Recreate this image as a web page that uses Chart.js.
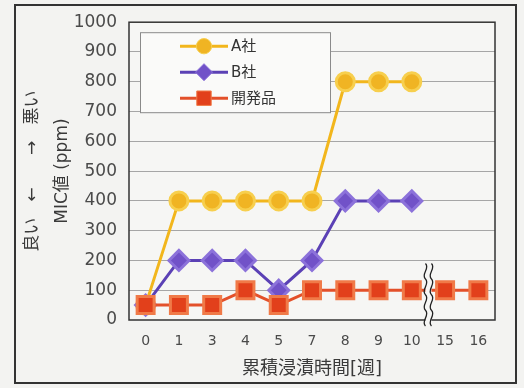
<!DOCTYPE html>
<html>
<head>
<meta charset="utf-8">
<script src="https://cdn.jsdelivr.net/npm/chart.js@4/dist/chart.umd.min.js"></script>
<style>
  html, body { margin: 0; padding: 0; background: #f3f3f1; }
  #wrap { position: relative; width: 524px; height: 388px; }
  #frame { position: absolute; left: 14px; top: 4px; width: 503px; height: 380px;
           border: 2px solid #333; box-sizing: border-box; }
  canvas { position: absolute; left: 0; top: 0; }
</style>
</head>
<body>
<div id="wrap">
  <div id="frame"></div>
  <canvas id="c" width="524" height="388"></canvas>
</div>
<script>
// weeks of immersion (category axis, with a break between 10 and 15)
const weeks = ["0", "1", "3", "4", "5", "7", "8", "9", "10", "15", "16"];
const yTicks = [0, 100, 200, 300, 400, 500, 600, 700, 800, 900, 1000];

// MIC values (ppm)
const companyA = [50, 400, 400, 400, 400, 400, 800, 800, 800, null, null];
const companyB = [50, 200, 200, 200, 100, 200, 400, 400, 400, null, null];
const devProduct = [50, 50, 50, 100, 50, 100, 100, 100, 100, 100, 100];

const seriesNames = ["A社", "B社", "開発品"];

const FONT = "'DejaVu Sans', 'Noto Sans CJK JP', sans-serif";

// wavy axis break between week 10 and 15
const breakPlugin = {
  id: "axisBreak",
  afterDatasetsDraw(chart) {
    const { ctx, scales: { x, y } } = chart;
    const xm = (x.getPixelForValue(8) + x.getPixelForValue(9)) / 2;
    const top = y.getPixelForValue(190);
    const bottom = y.getPixelForValue(-20);
    const wave = (off) => {
      ctx.beginPath();
      const n = 4, h = (bottom - top) / n;
      ctx.moveTo(xm + off, top);
      for (let i = 0; i < n; i++) {
        const y0 = top + i * h;
        ctx.bezierCurveTo(xm + off + 5, y0 + h * 0.3, xm + off - 5, y0 + h * 0.7, xm + off, y0 + h);
      }
    };
    ctx.save();
    ctx.fillStyle = "#f6f6f4";
    ctx.fillRect(xm - 3, top, 6, bottom - top);
    ctx.strokeStyle = "#222";
    ctx.lineWidth = 1.3;
    wave(-3); ctx.stroke();
    wave(3); ctx.stroke();
    ctx.restore();
  }
};

// legend box inside plot area, top-left
const legendPlugin = {
  id: "boxLegend",
  afterDraw(chart) {
    const { ctx, chartArea } = chart;
    const bx = chartArea.left + 11, by = chartArea.top + 10, bw = 190, bh = 80;
    ctx.save();
    ctx.fillStyle = "#fafaf9";
    ctx.strokeStyle = "#8a8a8a";
    ctx.lineWidth = 1;
    ctx.fillRect(bx, by, bw, bh);
    ctx.strokeRect(bx + 0.5, by + 0.5, bw, bh);
    chart.data.datasets.forEach((ds, i) => {
      const cy = by + 14 + i * 26;
      ctx.strokeStyle = ds.borderColor;
      ctx.lineWidth = 3;
      ctx.beginPath();
      ctx.moveTo(bx + 40, cy);
      ctx.lineTo(bx + 88, cy);
      ctx.stroke();
      ctx.fillStyle = ds.pointBackgroundColor;
      ctx.strokeStyle = ds.pointBorderColor;
      ctx.lineWidth = 1;
      Chart.helpers.drawPoint(ctx, {
        pointStyle: ds.pointStyle, radius: ds.pointRadius * 0.85, borderWidth: 1
      }, bx + 64, cy);
      ctx.fillStyle = "#333";
      ctx.font = "15px " + FONT;
      ctx.textBaseline = "middle";
      ctx.fillText(seriesNames[i], bx + 91, cy + 1);
    });
    ctx.restore();
  }
};

const plotBg = {
  id: "plotBg",
  beforeDraw(chart) {
    const { ctx, chartArea: a } = chart;
    ctx.save();
    ctx.fillStyle = "#f6f6f4";
    ctx.fillRect(a.left, a.top, a.right - a.left, a.bottom - a.top);
    ctx.restore();
  },
  afterDatasetsDraw(chart) {
    const { ctx, chartArea: a } = chart;
    ctx.save();
    ctx.strokeStyle = "#333";
    ctx.lineWidth = 1.5;
    ctx.strokeRect(a.left, a.top, a.right - a.left, a.bottom - a.top);
    ctx.restore();
  }
};

new Chart(document.getElementById("c"), {
  type: "line",
  data: {
    labels: weeks,
    datasets: [
      {
        label: seriesNames[0],
        data: companyA,
        borderColor: "#f2b61c",
        backgroundColor: "#f0b423",
        pointBackgroundColor: "#f0b423",
        pointBorderColor: "#f7cf4e",
        pointStyle: "circle",
        pointRadius: 9,
        borderWidth: 3,
        order: 2,
      },
      {
        label: seriesNames[1],
        data: companyB,
        borderColor: "#5b41b5",
        backgroundColor: "#7152c8",
        pointBackgroundColor: "#7152c8",
        pointBorderColor: "#8c72da",
        pointStyle: "rectRot",
        pointRadius: 10,
        borderWidth: 3,
        order: 1,
      },
      {
        label: seriesNames[2],
        data: devProduct,
        borderColor: "#e3502a",
        backgroundColor: "#e2401b",
        pointBackgroundColor: "#e2401b",
        pointBorderColor: "#f07a48",
        pointStyle: "rect",
        pointRadius: 12,
        borderWidth: 3,
        order: 0,
      },
    ],
  },
  options: {
    responsive: false,
    animation: false,
    spanGaps: false,
    layout: { padding: { left: 18, top: 20, right: 29, bottom: 8 } },
    plugins: {
      legend: { display: false },
      tooltip: { enabled: false },
    },
    scales: {
      x: {
        offset: true,
        grid: { display: false },
        border: { display: false },
        ticks: { color: "#4a4a4a", font: { family: FONT, size: 14 }, padding: 5, maxRotation: 0 },
        title: { display: true, text: "累積浸漬時間[週]", color: "#3a3a3a",
                 font: { family: FONT, size: 18 }, padding: { top: 2, bottom: 0 } },
        afterFit: (s) => { s.height = 60; },
      },
      y: {
        min: 0, max: 1000,
        afterBuildTicks: (s) => { s.ticks = yTicks.map(v => ({ value: v })); },
        grid: { color: (c) => (c.tick.value === 0 || c.tick.value === 1000) ? "rgba(0,0,0,0)" : "#a6a6a6",
                drawTicks: false, lineWidth: 1 },
        border: { display: false },
        ticks: { color: "#4a4a4a", font: { family: FONT, size: 17 }, padding: 12,
                 callback: (v) => String(v) },
        title: { display: true, text: ["良い   ←      →   悪い", "MIC値 (ppm)"], color: "#3a3a3a",
                 font: { family: FONT, size: 17, lineHeight: 1.75 }, padding: 0 },
        afterFit: (s) => { s.width = 111; },
      },
    },
  },
  plugins: [plotBg, breakPlugin, legendPlugin],
});
</script>
</body>
</html>
